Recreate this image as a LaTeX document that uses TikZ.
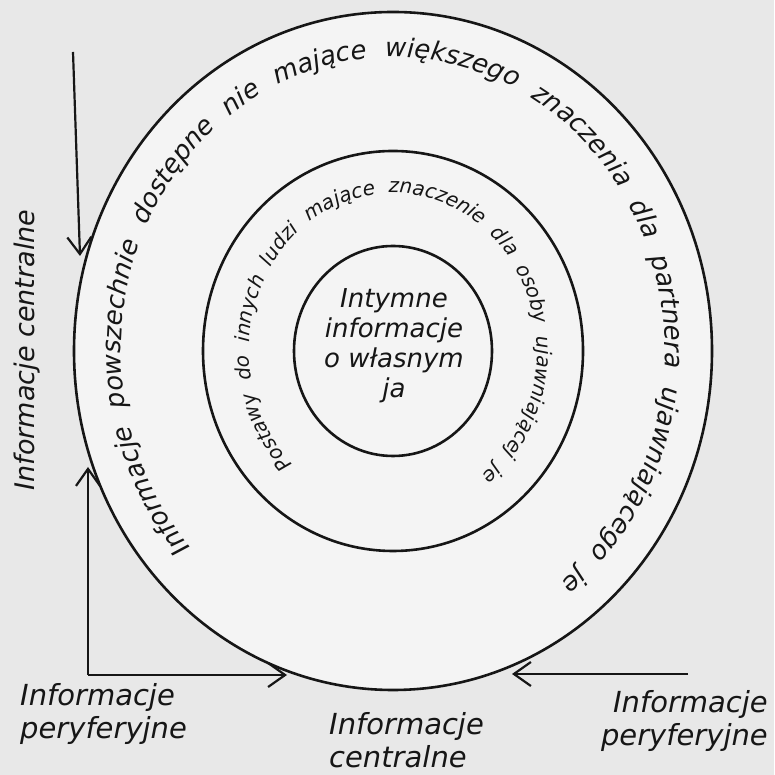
\documentclass[tikz,border=0pt]{standalone}
\usepackage{fontspec}
\newfontfamily\hand{DejaVu Sans}
\usetikzlibrary{decorations.text,arrows.meta}
\definecolor{paper}{RGB}{232,232,232}
\definecolor{sheet}{RGB}{244,244,244}
\definecolor{ink}{RGB}{22,22,22}
\tikzset{
  ring/.style={draw=ink, line width=2.6pt},
  infoarrow/.style={draw=ink, line width=2.2pt, -{Straight Barb[length=17pt,width=24pt]}},
  sidelabel/.style={text=ink, font=\hand\itshape\fontsize{29}{33}\selectfont, inner sep=0pt},
  arctext/.style={decorate, decoration={text along path, text color=ink,
      text align={fit to path stretching spaces}, text={#1}}}
}
\begin{document}
\begin{tikzpicture}[x=1pt,y=1pt]
\useasboundingbox (0,0) rectangle (774,775);
\fill[paper] (0,0) rectangle (774,775);
\coordinate (C) at (393,424);
% circles
\filldraw[ring, fill=sheet] (C) ellipse[x radius=319pt, y radius=339pt];
\draw[ring] (C) ellipse[x radius=190pt, y radius=200pt];
\draw[ring] (C) ellipse[x radius=99pt, y radius=105pt];
% text along the rings
\path[shift={(C)}, arctext={|\hand\itshape\fontsize{26}{31}\selectfont|Informacje powszechnie dostępne nie mające większego znaczenia dla partnera ujawniającego je}]
  (222:272pt and 294pt) arc[start angle=222, end angle=-52, x radius=272pt, y radius=294pt];
\path[shift={(C)}, arctext={|\hand\itshape\fontsize{20}{24}\selectfont|Postawy do innych ludzi mające znaczenie dla osoby ujawniającej je}]
  (226:144pt and 158pt) arc[start angle=226, end angle=-52, x radius=144pt, y radius=158pt];
% inner text
\node[text=ink, font=\hand\itshape\fontsize{26}{30}\selectfont, align=center, inner sep=0pt, anchor=north]
  (core) at (394,487) {Intymne\\informacje\\o własnym\\ja};
% labels
\node[sidelabel, font=\hand\itshape\fontsize{27}{31}\selectfont, rotate=90] (lc) at (27,425) {Informacje centralne};
\node[sidelabel, align=left, anchor=north west] (lp) at (20,92) {Informacje\\peryferyjne};
\node[sidelabel, align=left, anchor=north west] (bc) at (329,63) {Informacje\\centralne};
\node[sidelabel, align=right, anchor=north east] (rp) at (768,85) {Informacje\\peryferyjne};
% arrows
\coordinate (a1s) at (73,723);
\coordinate (a1e) at (80,519);
\coordinate (corner) at (88,100);
\coordinate (a2e) at (88,308);
\coordinate (a3e) at (287,100);
\coordinate (a4s) at (688,101);
\coordinate (a4e) at (512,101);
\draw[infoarrow] (a1s) -- (a1e);
\draw[infoarrow] (corner) -- (a2e);
\draw[infoarrow] (corner) -- (a3e);
\draw[infoarrow] (a4s) -- (a4e);
\end{tikzpicture}
\end{document}
